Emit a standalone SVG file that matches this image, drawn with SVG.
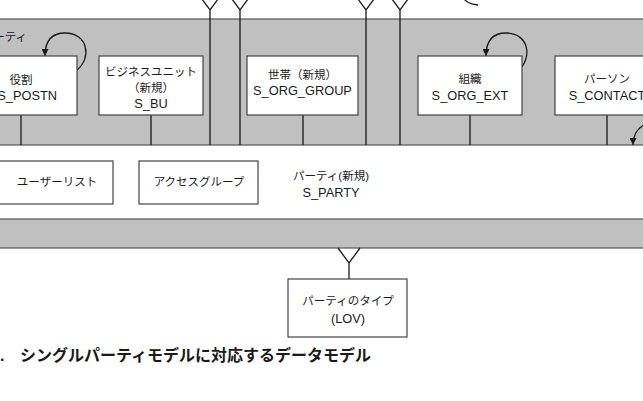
<svg xmlns="http://www.w3.org/2000/svg" width="643" height="401" viewBox="0 0 643 401">
<defs>
<style>
.band{fill:#c0c0c0;stroke:#555;stroke-width:1.2}
.white{fill:#fff;stroke:#555;stroke-width:1.2}
.box{fill:#fff;stroke:#444;stroke-width:1.2}
.ln{fill:none;stroke:#1a1a1a;stroke-width:1.3}
.lp{fill:none;stroke:#1a1a1a;stroke-width:1.3}
text{font-family:"Liberation Sans","Noto Sans CJK JP",sans-serif;fill:#1a1a1a;text-anchor:middle}
.jp{font-size:11.5px}
.en{font-size:12.8px}
.cap{font-size:16px;font-weight:bold;text-anchor:start}
</style>
<marker id="arr" viewBox="0 0 10 10" refX="10" refY="5" markerWidth="7" markerHeight="7" markerUnits="userSpaceOnUse" orient="auto">
<path d="M0,0 L10,5 L0,10 z" fill="#1a1a1a"/>
</marker>
</defs>
<rect class="band" x="-10" y="19" width="663" height="229"/>
<rect class="white" x="-10" y="145" width="663" height="74"/>
<text class="jp" x="27" y="41" style="text-anchor:end">パーティ</text>

<g id="connectors">
<path class="ln" d="M199,-5 L210,10 L221,-5 M210,10 V145"/>
<path class="ln" d="M229,-5 L240,10 L251,-5 M240,10 V145"/>
<path class="ln" d="M355,-5 L366,10 L377,-5 M366,10 V145"/>
<path class="ln" d="M389,-5 L400,10 L411,-5 M400,10 V145"/>
<path class="ln" d="M462,-4 Q466,4 478,5"/>
<path class="ln" d="M21,115 V145 M151,115 V145 M303,115 V145 M470,115 V145 M607,115 V145"/>
<path class="lp" d="M77,70 C92,58 88,33 65,33 C52,33 45,40 45,56" marker-end="url(#arr)"/>
<path class="lp" d="M518,71 C533,58 529,33 506,33 C493,33 486,40 486,56" marker-end="url(#arr)"/>
<path class="lp" d="M648,123 C640,126 633,132 633,145" marker-end="url(#arr)"/>
<path class="ln" d="M338,248 L349,263 L360,248 M349,263 V279"/>
</g>

<g id="node-postn">
<rect class="box" x="-35" y="56" width="112" height="59"/>
<text class="jp" x="21" y="84">役割</text>
<text class="en" x="57" y="99.5" style="text-anchor:end">S_POSTN</text>
</g>
<g id="node-bu">
<rect class="box" x="99" y="56" width="104" height="59"/>
<text class="jp" x="151" y="76">ビジネスユニット</text>
<text class="jp" x="151" y="91.5">（新規）</text>
<text class="en" x="151" y="107.5">S_BU</text>
</g>
<g id="node-org-group">
<rect class="box" x="247" y="56" width="111" height="59"/>
<text class="jp" x="302.5" y="79">世帯（新規）</text>
<text class="en" x="302.5" y="94.5">S_ORG_GROUP</text>
</g>
<g id="node-org-ext">
<rect class="box" x="418" y="56" width="104" height="59"/>
<text class="jp" x="470" y="83">組織</text>
<text class="en" x="470" y="99.5">S_ORG_EXT</text>
</g>
<g id="node-contact">
<rect class="box" x="555" y="56" width="104" height="59"/>
<text class="jp" x="607" y="83">パーソン</text>
<text class="en" x="607" y="99.5">S_CONTACT</text>
</g>
<g id="node-userlist">
<rect class="box" x="-2" y="161" width="115" height="43"/>
<text class="jp" x="57" y="186">ユーザーリスト</text>
</g>
<g id="node-accessgroup">
<rect class="box" x="139" y="161" width="119" height="43"/>
<text class="jp" x="199" y="186">アクセスグループ</text>
</g>
<g id="node-party">
<text class="jp" x="331" y="180">パーティ(新規)</text>
<text class="en" x="331" y="196.5">S_PARTY</text>
</g>
<g id="node-lov">
<rect class="box" x="288" y="279" width="119" height="58"/>
<text class="jp" x="348" y="305">パーティのタイプ</text>
<text class="en" x="348" y="322.5">(LOV)</text>
</g>
<text class="cap" x="0" y="361">.</text>
<text class="cap" x="20" y="361">シングルパーティモデルに対応するデータモデル</text>
</svg>
